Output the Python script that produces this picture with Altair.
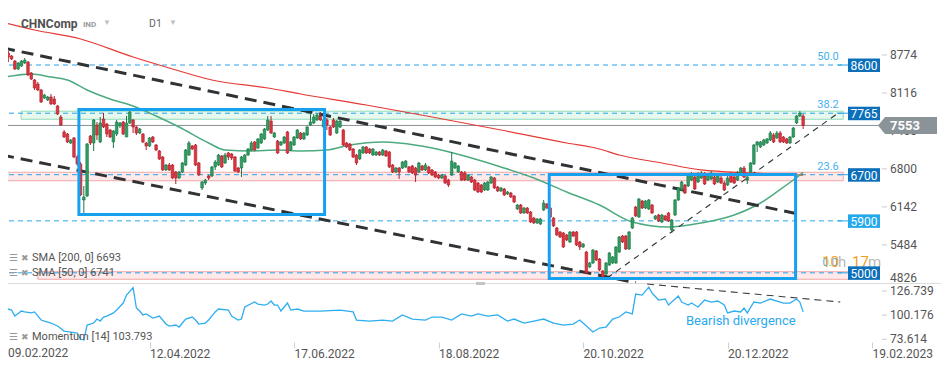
import altair as alt
import pandas as pd

# ---------------- data ----------------
OPEN = [
    8618, 8808, 8756, 8669, 8531, 8583, 8635, 8652, 8462, 8340,
    8271, 8167, 8029, 7994, 8046, 8011, 7890, 7700, 7440, 7405,
    7249, 7336, 7007, 6886, 6262, 6331, 7370, 7249, 7561, 7267,
    7665, 7578, 7474, 7267, 7405, 7544, 7613, 7353, 7596, 7648,
    7526, 7422, 7405, 7249, 7197, 7353, 7215, 7111, 7007, 6782,
    6868, 6868, 6747, 6643, 6747, 6868, 7041, 7197, 7215, 6903,
    6470, 6556, 6678, 6678, 6834, 6868, 7024, 6903, 7076, 7059,
    7007, 6816, 6816, 6920, 7041, 7128, 7267, 7163, 7249, 7319,
    7474, 7630, 7353, 7284, 7215, 7249, 7440, 7128, 7215, 7336,
    7422, 7319, 7388, 7561, 7596, 7648, 7717, 7526, 7648, 7526,
    7648, 7422, 7526, 7474, 7249, 7232, 7145, 7041, 6972, 7076,
    7180, 7145, 7041, 7041, 7093, 7041, 7111, 7093, 6868, 6747,
    6816, 6816, 6834, 6834, 6851, 6816, 6747, 6851, 6782, 6834,
    6782, 6747, 6695, 6643, 6678, 6608, 6695, 6816, 6747, 6747,
    6730, 6608, 6660, 6608, 6556, 6522, 6435, 6435, 6556, 6643,
    6487, 6418, 6452, 6366, 6383, 6331, 6106, 6175, 6037, 6123,
    6054, 5950, 5864, 5846, 6089, 6193, 6123, 5950, 5777, 5708,
    5690, 5656, 5534, 5708, 5708, 5534, 5448, 5361, 5102, 5171,
    5379, 5240, 5032, 4980, 5136, 5171, 5171, 5361, 5638, 5638,
    5413, 5777, 6141, 5968, 6245, 6123, 6106, 6175, 5933, 6002,
    5881, 5985, 6037, 5742, 6002, 6262, 6435, 6522, 6504, 6608,
    6660, 6574, 6643, 6678, 6608, 6626, 6660, 6574, 6643, 6556,
    6522, 6695, 6660, 6608, 6695, 6816, 6608, 6747, 6886, 7215,
    7180, 7215, 7249, 7301, 7388, 7336, 7422, 7353, 7319, 7249,
    7353, 7596, 7717, 7717]
CLOSE = [
    8808, 8739, 8704, 8531, 8635, 8669, 8687, 8427, 8358, 8202,
    8167, 7959, 8081, 8046, 7925, 7925, 7751, 7561, 7353, 7267,
    7301, 7007, 6886, 6349, 6314, 7232, 7249, 7648, 7388, 7596,
    7526, 7405, 7353, 7457, 7613, 7596, 7405, 7596, 7786, 7526,
    7422, 7492, 7267, 7197, 7336, 7267, 7128, 6972, 6782, 6868,
    6782, 6643, 6643, 6747, 6903, 7128, 7249, 7145, 6868, 6695,
    6574, 6608, 6643, 6834, 6920, 7041, 6834, 7041, 7007, 6989,
    6764, 6747, 7007, 7041, 7145, 7249, 7128, 7319, 7405, 7492,
    7648, 7422, 7422, 7076, 7267, 7353, 7076, 7267, 7353, 7474,
    7319, 7422, 7526, 7613, 7700, 7734, 7648, 7648, 7561, 7388,
    7526, 7630, 7630, 7215, 7180, 7128, 7007, 6903, 7128, 7180,
    7076, 7076, 7145, 7093, 7041, 7128, 7024, 6834, 6747, 6816,
    6747, 6920, 6937, 6747, 6730, 6695, 6903, 6782, 6868, 6730,
    6695, 6660, 6643, 6695, 6556, 6522, 6937, 6903, 6851, 6608,
    6608, 6695, 6574, 6435, 6401, 6401, 6556, 6574, 6660, 6470,
    6418, 6470, 6349, 6401, 6314, 6227, 6175, 6037, 6123, 6037,
    5881, 5864, 5933, 5933, 6210, 6123, 5968, 5812, 5656, 5621,
    5448, 5569, 5708, 5638, 5482, 5448, 5500, 4998, 5171, 5396,
    5223, 5050, 4928, 5171, 5344, 5275, 5448, 5621, 5534, 5413,
    5708, 5950, 5985, 6279, 6123, 6245, 6262, 6037, 5985, 5898,
    6002, 5916, 5898, 5916, 6262, 6470, 6574, 6383, 6695, 6695,
    6452, 6695, 6730, 6539, 6695, 6730, 6539, 6678, 6556, 6435,
    6643, 6574, 6556, 6730, 6816, 6660, 6660, 6903, 7215, 7267,
    7267, 7301, 7319, 7422, 7267, 7422, 7267, 7267, 7249, 7353,
    7509, 7717, 7769, 7553]
HIGH = [
    8825, 8843, 8773, 8687, 8652, 8687, 8721, 8669, 8479, 8358,
    8306, 8185, 8098, 8063, 8098, 8063, 7907, 7734, 7474, 7422,
    7319, 7353, 7041, 6920, 6504, 7249, 7388, 7665, 7613, 7700,
    7769, 7596, 7492, 7474, 7648, 7613, 7630, 7717, 7803, 7665,
    7544, 7509, 7422, 7267, 7353, 7370, 7232, 7128, 7024, 6886,
    6903, 6886, 6764, 6764, 6920, 7145, 7284, 7215, 7232, 6920,
    6591, 6626, 6695, 6851, 6955, 7059, 7041, 7076, 7093, 7076,
    7024, 6834, 7024, 7059, 7163, 7284, 7284, 7336, 7422, 7509,
    7717, 7717, 7440, 7301, 7284, 7370, 7457, 7284, 7370, 7492,
    7440, 7440, 7544, 7769, 7751, 7769, 7786, 7700, 7682, 7544,
    7682, 7648, 7665, 7492, 7267, 7249, 7163, 7059, 7145, 7197,
    7197, 7163, 7163, 7111, 7111, 7145, 7128, 7111, 6886, 6834,
    6834, 6937, 6955, 6851, 6868, 6834, 6920, 6868, 6903, 6851,
    6799, 6764, 6712, 6712, 6695, 6626, 7093, 6920, 6868, 6764,
    6764, 6712, 6678, 6626, 6574, 6539, 6574, 6591, 6678, 6660,
    6504, 6487, 6470, 6418, 6401, 6349, 6193, 6193, 6141, 6141,
    6071, 5968, 5950, 5950, 6262, 6210, 6141, 5968, 5794, 5725,
    5708, 5673, 5725, 5725, 5725, 5552, 5517, 5379, 5188, 5413,
    5396, 5257, 5050, 5188, 5361, 5292, 5465, 5638, 5656, 5656,
    5725, 5968, 6158, 6297, 6262, 6262, 6279, 6193, 6002, 6020,
    6020, 6002, 6054, 5933, 6279, 6487, 6591, 6539, 6712, 6747,
    6730, 6747, 6764, 6747, 6730, 6764, 6730, 6712, 6712, 6591,
    6712, 6747, 6712, 6764, 6834, 6851, 6678, 6920, 7232, 7284,
    7284, 7319, 7336, 7457, 7422, 7457, 7457, 7370, 7336, 7370,
    7526, 7734, 7803, 7751]
LOW = [
    8600, 8652, 8687, 8514, 8514, 8566, 8618, 8410, 8340, 8167,
    8150, 7942, 8011, 7977, 7907, 7907, 7734, 7544, 7336, 7249,
    7232, 6989, 6851, 6331, 6037, 6314, 7215, 7111, 7301, 7249,
    7509, 7353, 7336, 7163, 7370, 7509, 7388, 7353, 7578, 7422,
    7388, 7405, 7249, 7128, 7180, 7249, 7111, 6955, 6764, 6764,
    6764, 6626, 6539, 6626, 6730, 6851, 7024, 7128, 6851, 6678,
    6435, 6522, 6608, 6660, 6782, 6851, 6816, 6886, 6955, 6955,
    6747, 6730, 6660, 6903, 7024, 7111, 7111, 7145, 7232, 7301,
    7457, 7405, 7336, 7059, 7197, 7232, 7059, 7111, 7197, 7319,
    7301, 7301, 7370, 7544, 7578, 7630, 7630, 7509, 7474, 7370,
    7509, 7405, 7509, 7197, 7163, 7111, 6989, 6868, 6955, 7059,
    7059, 7059, 7024, 7024, 7024, 7024, 7007, 6816, 6730, 6730,
    6626, 6799, 6816, 6730, 6712, 6574, 6730, 6764, 6764, 6712,
    6678, 6643, 6626, 6626, 6539, 6487, 6678, 6799, 6730, 6591,
    6591, 6591, 6556, 6418, 6383, 6383, 6418, 6418, 6539, 6452,
    6401, 6401, 6331, 6349, 6297, 6210, 6089, 6020, 6020, 6020,
    5864, 5846, 5846, 5829, 6071, 6106, 5950, 5794, 5638, 5604,
    5431, 5552, 5517, 5621, 5465, 5396, 5431, 4980, 5084, 5153,
    5205, 5032, 4911, 4963, 5119, 5153, 5153, 5344, 5517, 5396,
    5396, 5760, 5968, 5950, 6106, 6106, 6089, 6020, 5916, 5881,
    5864, 5898, 5881, 5690, 5985, 6245, 6418, 6366, 6487, 6591,
    6435, 6556, 6626, 6522, 6591, 6608, 6522, 6556, 6539, 6418,
    6504, 6556, 6539, 6591, 6678, 6643, 6539, 6730, 6868, 7093,
    7163, 7197, 7232, 7284, 7249, 7319, 7249, 7249, 7232, 7232,
    7336, 7578, 7700, 7492]

SMA200_IDX = [0, 9, 23, 39, 49, 63, 80, 90, 110, 130, 151, 171, 181, 187, 200, 212, 227, 243]
SMA200_VAL = [9328, 9206, 9051, 8739, 8566, 8340, 8202, 8098, 7907, 7700, 7474, 7249, 7145, 7041, 6903, 6782, 6730, 6693]

SMA50_IDX = [0, 8, 14, 19, 25, 32, 39, 46, 53, 62, 67, 75, 83, 90, 98, 105, 115, 120, 130, 141,
             151, 161, 171, 181, 191, 202, 212, 222, 230, 235, 240, 243]
SMA50_VAL = [8392, 8444, 8392, 8340, 8167, 8011, 7890, 7717, 7526, 7249, 7128, 7111, 7128, 7111, 7128, 7215,
             7267, 7249, 7163, 7007, 6834, 6643, 6401, 6175, 5881, 5794, 5864, 6002, 6210, 6401, 6608, 6741]

MOM_IDX = [0, 2, 3, 5, 6, 8, 9, 11, 12, 14, 16, 18, 20, 22, 23, 24, 25, 27, 28, 29,
           30, 31, 33, 34, 36, 37, 39, 40, 41, 42, 43, 45, 46, 47, 49, 50, 52, 53, 55, 57,
           58, 59, 61, 62, 64, 65, 68, 69, 71, 72, 73, 76, 77, 79, 80, 81, 82, 83, 84, 86,
           87, 89, 91, 93, 95, 96, 102, 106, 107, 111, 115, 118, 121, 124, 128, 130, 133, 136, 139, 142,
           144, 147, 150, 153, 155, 158, 161, 164, 167, 170, 173, 175, 177, 179, 181, 183, 185, 187, 189, 191,
           192, 194, 196, 197, 199, 201, 202, 205, 206, 208, 209, 211, 213, 215, 217, 219, 220, 222, 224, 225,
           226, 228, 230, 233, 235, 237, 239, 241, 242, 243]
MOM_VAL = [108.0, 105.8, 99.2, 104.7, 103.7, 102.6, 103.7, 94.8, 93.7, 91.5,
           88.2, 82.7, 81.6, 80.5, 73.9, 72.8, 89.3, 91.5, 95.9, 93.7,
           98.1, 99.2, 102.6, 105.8, 113.5, 122.3, 130.5, 108.0, 104.7, 100.4,
           101.5, 97.0, 98.1, 99.2, 90.4, 88.2, 89.3, 87.1, 95.9, 98.1,
           94.8, 90.4, 91.5, 94.8, 103.7, 106.9, 105.8, 99.2, 94.8, 95.9,
           109.1, 114.6, 112.4, 111.3, 112.4, 115.7, 111.3, 111.3, 104.7, 113.5,
           105.8, 106.9, 104.7, 104.7, 104.7, 104.7, 105.8, 103.7, 94.8, 93.7,
           94.8, 93.7, 100.4, 95.9, 94.8, 98.1, 98.1, 94.8, 101.5, 99.2,
           101.5, 99.2, 100.4, 93.7, 95.9, 91.5, 93.7, 95.9, 91.5, 89.3,
           90.4, 94.8, 88.2, 81.6, 86.0, 87.1, 95.9, 98.1, 103.7, 101.5,
           123.4, 122.3, 131.1, 124.5, 116.8, 117.9, 111.3, 121.2, 114.6, 111.3,
           113.5, 109.1, 116.8, 114.6, 115.7, 111.3, 102.6, 104.7, 103.7, 108.0,
           102.6, 114.6, 113.5, 117.9, 115.7, 113.5, 113.5, 117.9, 114.6, 103.8]

DATE_TICKS = [0, 44, 88, 132, 176, 220, 264]
DATE_LABELS = ["09.02.2022", "12.04.2022", "17.06.2022", "18.08.2022", "20.10.2022", "20.12.2022", "19.02.2023"]
PRICE_TICKS = [5484, 6142, 6800, 7458, 8116, 8774]
PRICE_BOTTOM_TICK = [4826]
MOM_TICKS = [73.614, 100.176, 126.739]

LEVELS = [8600, 7765, 6700, 5900, 5000]
LEVEL_FILL = ["#0b6fba", "#0b6fba", "#0b6fba", "#22a9ee", "#0b6fba"]
FIB_TEXT = ["50.0", "38.2", "23.6"]
FIB_PRICE = [8600, 7765, 6700]
FIB_ZERO = [5000]
LAST_PRICE = [7553]

# trend lines: (bar index, price)
LINE_A_IDX, LINE_A_P = [-0.6, 241.5], [8895, 6020]
LINE_B_IDX, LINE_B_P = [-0.9, 192.1], [7041, 4830]
LINE_C_IDX, LINE_C_P = [183.3, 253.7], [4911, 7769]
LINE_D_IDX, LINE_D_M = [195.5, 254.3], [134.4, 114.6]

# zones
GREEN_ZONE = [4.9, 255.2, 7660, 7800]
PINK_ZONES_I0 = [-1.5, 10.0]
PINK_ZONES_I1 = [255.2, 257.0]
PINK_ZONES_P0 = [6596, 4889]
PINK_ZONES_P1 = [6742, 5020]
BOX_I0 = [22.5, 165.7]
BOX_I1 = [97.3, 240.7]
BOX_P0 = [6011, 4902]
BOX_P1 = [7829, 6704]

# ---------------- styles ----------------
UP_FILL, UP_EDGE = "#2e9e62", "#1f7546"
DN_FILL, DN_EDGE = "#e0343f", "#a8222c"
LEVEL_BLUE = "#27a4ea"
BOX_BLUE = "#16a0f0"
FONT = "Roboto"
AX_TXT = "#555555"

N = len(CLOSE)
assert len(OPEN) == N and len(HIGH) == N and len(LOW) == N

candles = pd.DataFrame({"i": list(range(N)), "o": OPEN, "c": CLOSE, "h": HIGH, "l": LOW})
candles["dir"] = ["up" if c >= o else "down" for o, c in zip(OPEN, CLOSE)]

xs = alt.Scale(domain=[-1.52, 266.4], nice=False, zero=False)
ps = alt.Scale(domain=[4819, 9726], range=[283.3, 0], nice=False, zero=False)
ms = alt.Scale(domain=[66.0, 135.0], range=[346.2, 283.5], nice=False, zero=False)

step = DATE_TICKS[1] - DATE_TICKS[0]
# first label is drawn separately (so it is not clipped at the page's left edge)
label_expr = ("['', " + ",".join("'%s'" % d for d in DATE_LABELS[1:]) + "][round(datum.value / %d)]" % step)
xaxis = alt.Axis(values=DATE_TICKS, labelExpr=label_expr, labelAlign="left", labelBaseline="middle",
                 labelPadding=5, tickSize=6, tickColor="#cfcfcf", domain=False, grid=False,
                 labelColor=AX_TXT, labelFont=FONT, labelFontSize=12, title="",
                 labelFlush=False, labelOverlap=False, labelBound=False)


def X(f):
    return alt.X(f, type="quantitative", scale=xs, axis=xaxis)


def PY(f):
    return alt.Y(f, type="quantitative", scale=ps, axis=None)


def MY(f):
    return alt.Y(f, type="quantitative", scale=ms, axis=None)


one = pd.DataFrame({"a": [0]})


def text(s, x, y, size=11, color=AX_TXT, weight="normal", align="left"):
    return alt.Chart(one).mark_text(text=s, fontSize=size, color=color, fontWeight=weight,
                                    align=align, baseline="middle", font=FONT).encode(
        x=alt.value(x), y=alt.value(y))


layers = []

green_df = pd.DataFrame({"i0": [GREEN_ZONE[0]], "i1": [GREEN_ZONE[1]], "p0": [GREEN_ZONE[2]], "p1": [GREEN_ZONE[3]]})
layers.append(alt.Chart(green_df).mark_rect(fill="#dff5ea", fillOpacity=0.75, stroke="#93dbb8", strokeWidth=1).encode(
    x=X("i0"), x2=alt.X2("i1"), y=PY("p0"), y2=alt.Y2("p1")))
pink_df = pd.DataFrame({"i0": PINK_ZONES_I0, "i1": PINK_ZONES_I1, "p0": PINK_ZONES_P0, "p1": PINK_ZONES_P1})
layers.append(alt.Chart(pink_df).mark_rect(fill="#fde3e3", fillOpacity=0.75, stroke="#f2a7a7", strokeWidth=1).encode(
    x=X("i0"), x2=alt.X2("i1"), y=PY("p0"), y2=alt.Y2("p1")))

lev_df = pd.DataFrame({"v": LEVELS, "fillc": LEVEL_FILL})
layers.append(alt.Chart(lev_df).mark_rule(color=LEVEL_BLUE, strokeWidth=1, strokeDash=[5, 4]).encode(
    x=alt.value(0), x2=alt.value(845), y=PY("v")))
layers.append(alt.Chart(lev_df).mark_rule(color=LEVEL_BLUE, strokeWidth=1).encode(
    x=alt.value(838), x2=alt.value(848), y=PY("v")))

last_df = pd.DataFrame({"v": LAST_PRICE})
layers.append(alt.Chart(last_df).mark_rule(color="#8a9398", strokeWidth=1).encode(
    x=alt.value(0), x2=alt.value(880), y=PY("v")))

s200 = pd.DataFrame({"i": SMA200_IDX, "v": SMA200_VAL})
layers.append(alt.Chart(s200).mark_line(color="#e53935", strokeWidth=1.2, interpolate="monotone").encode(
    x=X("i"), y=PY("v")))
s50 = pd.DataFrame({"i": SMA50_IDX, "v": SMA50_VAL})
layers.append(alt.Chart(s50).mark_line(color="#4cab7e", strokeWidth=1.5, interpolate="monotone").encode(
    x=X("i"), y=PY("v")))

ta = pd.DataFrame({"i": LINE_A_IDX, "p": LINE_A_P})
tb = pd.DataFrame({"i": LINE_B_IDX, "p": LINE_B_P})
tc = pd.DataFrame({"i": LINE_C_IDX, "p": LINE_C_P})
for d in (ta, tb):
    layers.append(alt.Chart(d).mark_line(color="#2f3336", strokeWidth=3, strokeDash=[12, 7]).encode(
        x=X("i"), y=PY("p")))
layers.append(alt.Chart(tc).mark_line(color="#2f3336", strokeWidth=1.1, strokeDash=[6, 5]).encode(
    x=X("i"), y=PY("p")))

dir_dom = ["up", "down"]
layers.append(alt.Chart(candles).mark_rule(strokeWidth=1).encode(
    x=X("i"), y=PY("l"), y2=alt.Y2("h"),
    color=alt.Color("dir:N", scale=alt.Scale(domain=dir_dom, range=[UP_EDGE, DN_EDGE]), legend=None)))
layers.append(alt.Chart(candles).mark_rect(xOffset=-1.3, x2Offset=1.3, strokeWidth=0.6).encode(
    x=X("i"), x2=alt.X2("i"), y=PY("o"), y2=alt.Y2("c"),
    fill=alt.Fill("dir:N", scale=alt.Scale(domain=dir_dom, range=[UP_FILL, DN_FILL]), legend=None),
    stroke=alt.Stroke("dir:N", scale=alt.Scale(domain=dir_dom, range=[UP_EDGE, DN_EDGE]), legend=None)))

box_df = pd.DataFrame({"i0": BOX_I0, "i1": BOX_I1, "p0": BOX_P0, "p1": BOX_P1})
layers.append(alt.Chart(box_df).mark_rect(filled=False, stroke=BOX_BLUE, strokeWidth=3).encode(
    x=X("i0"), x2=alt.X2("i1"), y=PY("p0"), y2=alt.Y2("p1")))

sep_df = pd.DataFrame({"m": [135.0]})
layers.append(alt.Chart(sep_df).mark_rule(color="#dcdcdc", strokeWidth=1).encode(
    x=alt.value(0), x2=alt.value(947), y=MY("m")))
mom = pd.DataFrame({"i": MOM_IDX, "m": MOM_VAL})
layers.append(alt.Chart(mom).mark_line(color="#2eaef0", strokeWidth=1.3).encode(x=X("i"), y=MY("m")))
td = pd.DataFrame({"i": LINE_D_IDX, "m": LINE_D_M})
layers.append(alt.Chart(td).mark_line(color="#3a3f42", strokeWidth=1.1, strokeDash=[7, 5]).encode(
    x=X("i"), y=MY("m")))
layers.append(alt.Chart(one).mark_rect(color="#c4c4c4").encode(
    x=alt.value(476), x2=alt.value(485), y=alt.value(282), y2=alt.value(285)))

fib_df = pd.DataFrame({"t": FIB_TEXT, "v": FIB_PRICE})
layers.append(alt.Chart(fib_df).mark_text(color="#45b0ee", fontSize=11, font=FONT, align="center", dy=-8).encode(
    x=alt.value(828), y=PY("v"), text="t:N"))
fz = pd.DataFrame({"v": FIB_ZERO})
layers.append(alt.Chart(fz).mark_text(text="0.0", color="#45b0ee", fontSize=11, font=FONT, align="center", dy=-10).encode(
    x=alt.value(830), y=PY("v")))

layers.append(text("10", 822, 262, size=15, color="#f5a01a"))
layers.append(text("h", 838, 262, size=15, color="#b9b9b9"))
layers.append(text("17", 852, 262, size=15, color="#f5a01a"))
layers.append(text("m", 868, 262, size=15, color="#b9b9b9"))

pt = pd.DataFrame({"v": PRICE_TICKS})
layers.append(alt.Chart(pt).mark_rule(color="#cccccc").encode(x=alt.value(882), x2=alt.value(887), y=PY("v")))
layers.append(alt.Chart(pt).mark_text(fontSize=12, color=AX_TXT, font=FONT, align="left", baseline="middle").encode(
    x=alt.value(890), y=PY("v"), text=alt.Text("v:Q", format="d")))
pb = pd.DataFrame({"v": PRICE_BOTTOM_TICK})
layers.append(alt.Chart(pb).mark_text(fontSize=12, color=AX_TXT, font=FONT, align="left", baseline="middle", dy=-4.5).encode(
    x=alt.value(890), y=PY("v"), text=alt.Text("v:Q", format="d")))
mt = pd.DataFrame({"v": MOM_TICKS})
layers.append(alt.Chart(mt).mark_rule(color="#cccccc").encode(x=alt.value(882), x2=alt.value(887), y=MY("v")))
layers.append(alt.Chart(mt).mark_text(fontSize=12, color=AX_TXT, font=FONT, align="left", baseline="middle").encode(
    x=alt.value(890), y=MY("v"), text=alt.Text("v:Q", format=".3f")))

layers.append(alt.Chart(lev_df).mark_rect(yOffset=-6.5, y2Offset=7).encode(
    x=alt.value(848), x2=alt.value(880), y=PY("v"), y2=alt.Y2("v"),
    fill=alt.Fill("fillc:N", scale=None)))
layers.append(alt.Chart(lev_df).mark_text(color="white", fontSize=12, font=FONT, align="center", baseline="middle", dy=1).encode(
    x=alt.value(864), y=PY("v"), text=alt.Text("v:Q", format="d")))

tag_path = "M -1 0 L -0.76 -0.29 L 1 -0.29 L 1 0.29 L -0.76 0.29 Z"
layers.append(alt.Chart(last_df).mark_point(shape=tag_path, size=3481, filled=True, fill="#8a9398",
                                            strokeWidth=0, opacity=1).encode(x=alt.value(907.5), y=PY("v")))
layers.append(alt.Chart(last_df).mark_text(color="white", fontSize=13, fontWeight="bold", font=FONT,
                                           align="left", baseline="middle", dy=1).encode(
    x=alt.value(890), y=PY("v"), text=alt.Text("v:Q", format="d")))

# first date label (kept inside the visible page area)
layers.append(text(DATE_LABELS[0], 8, 353, size=12, color=AX_TXT))

layers.append(text("CHNComp", 21, 24, size=12, color="#505050", weight="bold"))
layers.append(text("IND", 83, 24.5, size=8, color="#9a9a9a", weight="bold"))
layers.append(text("▼", 103, 23, size=8, color="#c0c0c0"))
layers.append(text("D1", 149, 24, size=10.5, color="#666666"))
layers.append(text("▼", 169, 23, size=8, color="#c0c0c0"))
for yy, s in ((258, "SMA  [200,  0]  6693"), (272.5, "SMA  [50,  0]  6741"), (337, "Momentum  [14]  103.793")):
    layers.append(text("☰", 9, yy, size=10, color="#9a9a9a"))
    layers.append(text("✖", 21, yy, size=9, color="#9a9a9a"))
    layers.append(text(s, 32, yy, size=11, color="#555555"))
layers.append(text("Bearish divergence", 686, 321, size=13, color="#2aa9ef"))

chart = alt.layer(*layers).resolve_scale(y="independent").properties(
    width=880, height=342,
    autosize=alt.AutoSizeParams(type="none"),
    padding={"left": -8, "top": -8, "right": 61, "bottom": 20},
    background="white",
).configure_view(strokeWidth=0)

chart.save("out.html", embed_options={"renderer": "svg", "actions": False})
